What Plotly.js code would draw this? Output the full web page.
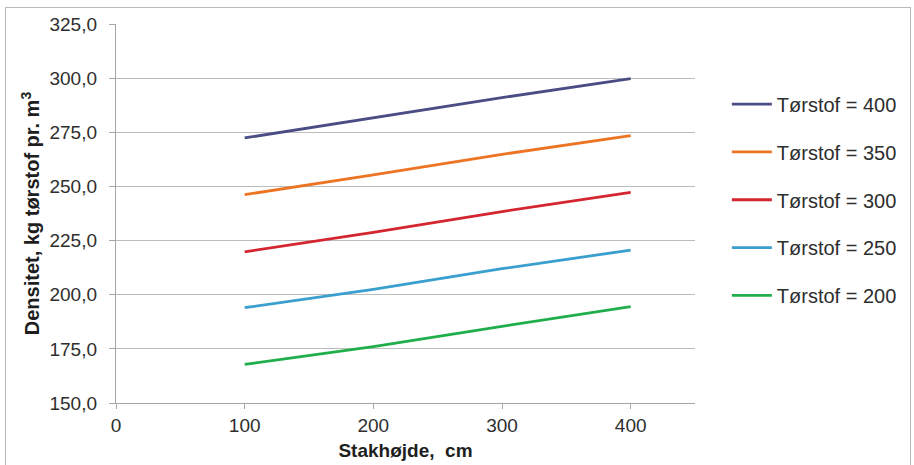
<!DOCTYPE html>
<html>
<head>
<meta charset="utf-8">
<script src="https://cdn.plot.ly/plotly-3.0.1.min.js"></script>
<style>
html,body{margin:0;padding:0;background:#fff;}
#wrap{position:relative;width:914px;height:465px;overflow:hidden;}
#chart{width:914px;height:465px;}
#frame{position:absolute;left:5px;top:7px;width:904px;height:470px;border:1.5px solid #b8b8b8;pointer-events:none;}
</style>
</head>
<body>
<div id="wrap"><div id="chart"></div><div id="frame"></div></div>
<script>
const stakhojde = [100, 200, 300, 400];
const seriesNames = ['Tørstof = 400', 'Tørstof = 350', 'Tørstof = 300', 'Tørstof = 250', 'Tørstof = 200'];
const ts400 = [272.4, 281.6, 291.0, 299.8];
const ts350 = [246.2, 255.3, 264.8, 273.5];
const ts300 = [219.8, 228.8, 238.4, 247.2];
const ts250 = [194.0, 202.5, 212.0, 220.6];
const ts200 = [167.8, 176.0, 185.4, 194.5];
const xTicks = [0, 100, 200, 300, 400];

const colors = ['#4a4d84', '#ec7423', '#d42530', '#3a9fce', '#1fae4b'];
const allSeries = [ts400, ts350, ts300, ts250, ts200];

const traces = allSeries.map((ys, i) => ({
  x: stakhojde, y: ys, type: 'scatter', mode: 'lines',
  name: seriesNames[i], legendgroup: 'g' + i,
  line: {color: colors[i], width: 2.8}
}));

const fam = 'Liberation Sans, Arial, sans-serif';
const layout = {
  width: 914, height: 465,
  margin: {l: 116, r: 219, t: 24, b: 62},
  paper_bgcolor: '#ffffff', plot_bgcolor: '#ffffff',
  font: {family: fam, color: '#2e2e2e', size: 19},
  separators: ', ',
  showlegend: true,
  legend: {x: 1.055, xanchor: 'left', y: 0.84, yanchor: 'top',
           font: {family: fam, size: 20, color: '#2e2e2e'},
           tracegroupgap: 18.8, itemwidth: 40, bgcolor: 'rgba(0,0,0,0)'},
  xaxis: {
    range: [0, 450], tickvals: xTicks, ticktext: xTicks.map(String),
    showgrid: false, zeroline: false,
    showline: true, linecolor: '#a6a6a6', linewidth: 1.2,
    ticks: 'outside', ticklen: 5, tickcolor: '#a6a6a6',
    tickfont: {size: 19, color: '#2e2e2e'},
    title: {text: '<b>Stakhøjde,  cm</b>', font: {size: 19, color: '#1e1e1e'}, standoff: 8}
  },
  yaxis: {
    range: [150, 325], dtick: 25, tick0: 150, tickformat: '.1f',
    showgrid: true, gridcolor: '#bdbdbd', gridwidth: 1.2, zeroline: false,
    showline: true, linecolor: '#a6a6a6', linewidth: 1.2,
    ticks: 'outside', ticklen: 6, tickcolor: '#a6a6a6',
    ticklabelstandoff: 8,
    tickfont: {size: 19, color: '#2e2e2e'},
    title: {text: '<b>Densitet, kg tørstof pr. m<sup>3</sup></b>', font: {size: 20, color: '#1e1e1e'}, standoff: 4}
  }
};
Plotly.newPlot('chart', traces, layout, {displayModeBar: false, staticPlot: true});
</script>
</body>
</html>
